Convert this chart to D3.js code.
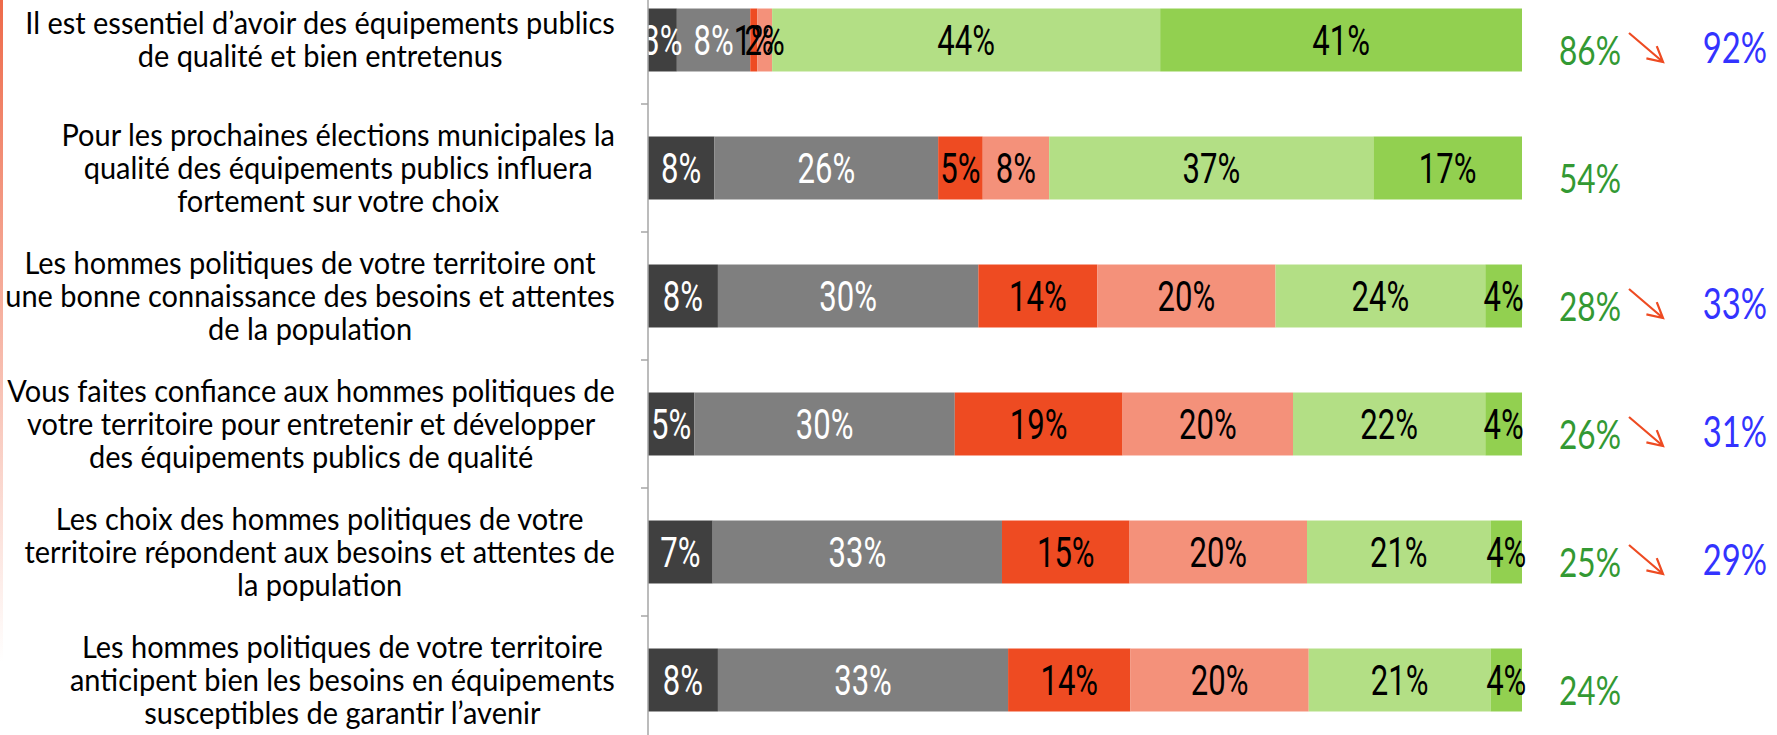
<!DOCTYPE html>
<html><head><meta charset="utf-8">
<script src="https://cdn.jsdelivr.net/npm/d3@7"></script>
<style>
html,body{margin:0;padding:0;background:#fff;}
svg{display:block;}
</style></head><body>
<svg id="chart" width="1777" height="735"></svg>
<script>
// ---- data ----
const categories = [
  "Il est essentiel d’avoir des équipements publics\nde qualité et bien entretenus",
  "Pour les prochaines élections municipales la\nqualité des équipements publics influera\nfortement sur votre choix",
  "Les hommes politiques de votre territoire ont\nune bonne connaissance des besoins et attentes\nde la population",
  "Vous faites confiance aux hommes politiques de\nvotre territoire pour entretenir et développer\ndes équipements publics de qualité",
  "Les choix des hommes politiques de votre\nterritoire répondent aux besoins et attentes de\nla population",
  "Les hommes politiques de votre territoire\nanticipent bien les besoins en équipements\nsusceptibles de garantir l’avenir"
];
const seriesNames = ["Série 1", "Série 2", "Série 3", "Série 4", "Série 5", "Série 6"];
const serie1 = [3.3, 7.6, 8.0, 5.3, 7.4, 8.0];
const serie2 = [8.4, 25.6, 29.8, 29.8, 33.1, 33.2];
const serie3 = [0.8, 5.1, 13.6, 19.2, 14.6, 14.0];
const serie4 = [1.7, 7.6, 20.4, 19.5, 20.3, 20.4];
const serie5 = [44.4, 37.1, 24.0, 22.0, 21.0, 20.8];
const serie6 = [41.4, 17.0, 4.2, 4.2, 3.6, 3.6];
const totalAccord = [86, 54, 28, 26, 25, 24];
const totalPrecedent = [92, null, 33, 31, 29, null];

// ---- styles ----
const colors = ["#404040", "#7f7f7f", "#ee4b22", "#f4917a", "#b3df85", "#92d050"];
const labelColors = ["#ffffff", "#ffffff", "#000000", "#000000", "#000000", "#000000"];
const catFont = "Lato, 'Open Sans', sans-serif";
const numFont = "Roboto, 'Open Sans', sans-serif";
const totFont = "Lato, 'Open Sans', sans-serif";

const W = 1777, H = 735;
const svg = d3.select("#chart");

const allSeries = [serie1, serie2, serie3, serie4, serie5, serie6];
const table = categories.map((c, i) => {
  const row = {cat: c};
  seriesNames.forEach((s, j) => row[s] = allSeries[j][i]);
  return row;
});

const stack = d3.stack().keys(seriesNames).offset(d3.stackOffsetExpand);
const stacked = stack(table);

const x = d3.scaleLinear().domain([0, 1]).range([648, 1522]);
const y = d3.scaleBand().domain(categories).range([-24, 744])
  .paddingInner(0.508).paddingOuter(0.254);
const cyOf = c => y(c) + y.bandwidth() / 2;

// left gradient edge
const defs = svg.append("defs");
const grad = defs.append("linearGradient").attr("id", "edge")
  .attr("x1", 0).attr("y1", 0).attr("x2", 0).attr("y2", 1);
grad.append("stop").attr("offset", "0%").attr("stop-color", "#ee6a4a");
grad.append("stop").attr("offset", "90%").attr("stop-color", "#ffffff");
svg.append("rect").attr("x", 0).attr("y", 0).attr("width", 3).attr("height", H)
  .attr("fill", "url(#edge)");

defs.append("clipPath").attr("id", "plotclip").append("rect")
  .attr("x", x(0)).attr("y", 0).attr("width", 1000).attr("height", H);

// bars
const layers = svg.append("g").selectAll("g").data(stacked).join("g")
  .attr("fill", (d, i) => colors[i]);
layers.selectAll("rect").data(d => d).join("rect")
  .attr("x", d => x(d[0]))
  .attr("y", d => y(d.data.cat))
  .attr("width", d => x(d[1]) - x(d[0]))
  .attr("height", y.bandwidth());

// bar labels (condensed by horizontal scaling)
const numSX = 0.74;
const lab = svg.append("g").attr("clip-path", "url(#plotclip)");
stacked.forEach((layer, i) => {
  lab.append("g").selectAll("g").data(layer).join("g")
    .attr("transform", d => `translate(${(x(d[0]) + x(d[1])) / 2},${cyOf(d.data.cat)}) scale(${numSX},1)`)
    .append("text")
    .attr("dy", "0.36em")
    .attr("text-anchor", "middle")
    .attr("font-family", numFont)
    .attr("font-size", 42)
    .attr("fill", labelColors[i])
    .text(d => Math.round(d.data[layer.key]) + "%");
});

// axis
const axis = svg.append("g").attr("transform", `translate(${x(0)},0)`)
  .call(d3.axisLeft(y).tickSize(0).tickFormat(""));
axis.select(".domain").attr("stroke", "#a6a6a6").attr("stroke-width", 1.5)
  .attr("d", `M0,0V${H}`);
const bounds = d3.range(categories.length + 1).map(i => y.range()[0] + i * y.step());
svg.append("g").selectAll("line").data(bounds).join("line")
  .attr("x1", x(0) - 7).attr("x2", x(0))
  .attr("y1", d => d).attr("y2", d => d)
  .attr("stroke", "#a6a6a6").attr("stroke-width", 1.5);

// category labels (block right aligned, lines centered)
const lineH = 33, catSX = 0.95, catRight = 615;
const catG = svg.append("g");
categories.forEach(c => {
  const lines = c.split("\n");
  const cy = cyOf(c);
  const gs = lines.map((l, k) => {
    const g = catG.append("g");
    const t = g.append("text")
      .attr("font-family", catFont).attr("font-size", 30.5).attr("fill", "#000")
      .attr("text-anchor", "middle").attr("dy", "0.36em").text(l);
    return {g, t, yy: cy + (k - (lines.length - 1) / 2) * lineH};
  });
  const maxW = d3.max(gs, o => o.t.node().getComputedTextLength()) * catSX;
  gs.forEach(o => o.g.attr("transform", `translate(${catRight - maxW / 2},${o.yy}) scale(${catSX},1)`));
});

// right-side totals
const totSX = 0.77;
const right = svg.append("g");
right.selectAll("g.tot").data(totalAccord).join("g").attr("class", "tot")
  .attr("transform", (d, i) => `translate(1590,${cyOf(categories[i]) + 10}) scale(${totSX},1)`)
  .append("text")
  .attr("dy", "0.36em").attr("text-anchor", "middle")
  .attr("font-family", totFont).attr("font-size", 41).attr("fill", "#339933")
  .text(d => d + "%");

const prevIdx = totalPrecedent.map((v, i) => ({v, i})).filter(d => d.v !== null);
right.selectAll("g.prev").data(prevIdx).join("g").attr("class", "prev")
  .attr("transform", d => `translate(1735,${cyOf(categories[d.i]) + 8}) scale(0.78,1)`)
  .append("text")
  .attr("dy", "0.36em").attr("text-anchor", "middle")
  .attr("font-family", totFont).attr("font-size", 42).attr("fill", "#3333ff")
  .text(d => d.v + "%");

// arrows
prevIdx.forEach(d => {
  const cy = cyOf(categories[d.i]);
  const x1 = 1629, y1 = cy - 7, x2 = 1663, y2 = cy + 22;
  const a = Math.atan2(y2 - y1, x2 - x1);
  const L = 17, s = 28 * Math.PI / 180;
  const p = d3.path();
  p.moveTo(x1, y1); p.lineTo(x2, y2);
  p.moveTo(x2 + L * Math.cos(a + Math.PI - s), y2 + L * Math.sin(a + Math.PI - s));
  p.lineTo(x2, y2);
  p.lineTo(x2 + L * Math.cos(a + Math.PI + s), y2 + L * Math.sin(a + Math.PI + s));
  right.append("path").attr("d", p.toString()).attr("fill", "none")
    .attr("stroke", "#ee4b22").attr("stroke-width", 2.2);
});
</script>
</body></html>
